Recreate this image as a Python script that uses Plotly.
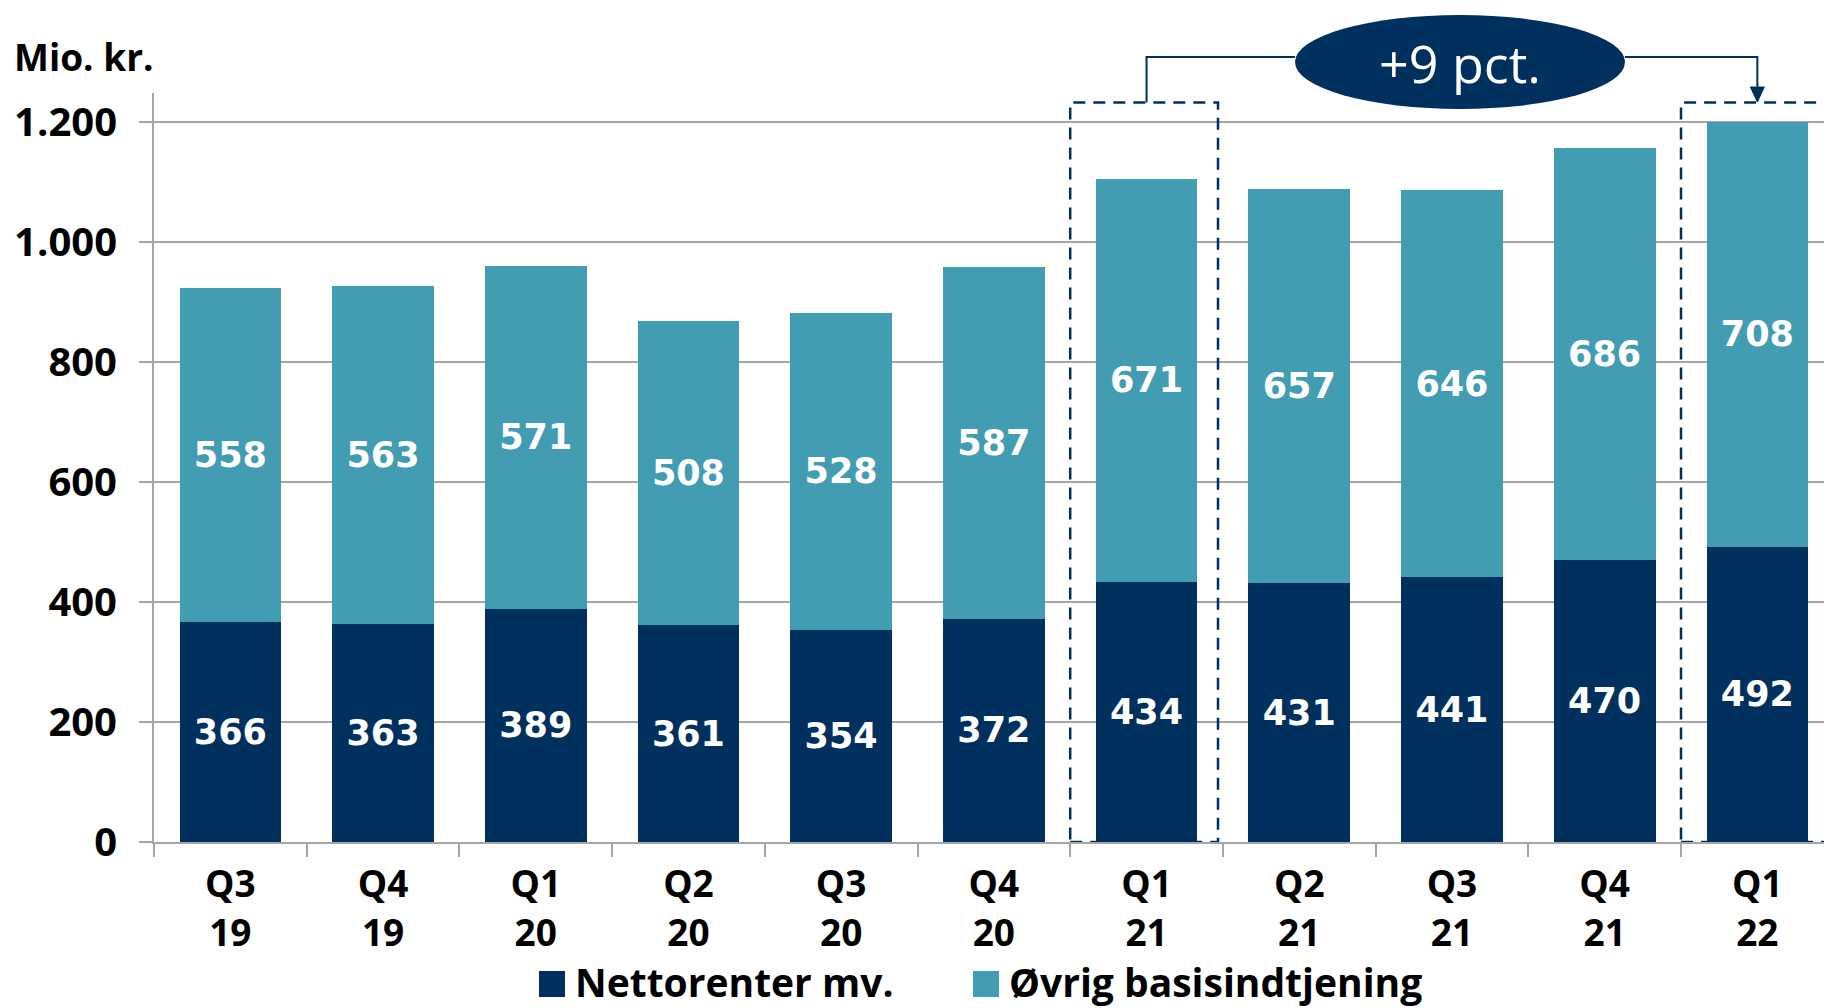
import plotly.graph_objects as go

# ---- data ----
quarters = ["Q3", "Q4", "Q1", "Q2", "Q3", "Q4", "Q1", "Q2", "Q3", "Q4", "Q1"]
years = ["19", "19", "20", "20", "20", "20", "21", "21", "21", "21", "22"]
nettorenter = [366, 363, 389, 361, 354, 372, 434, 431, 441, 470, 492]
ovrig = [558, 563, 571, 508, 528, 587, 671, 657, 646, 686, 708]
series_names = ["Nettorenter mv.", "Øvrig basisindtjening"]
y_title = "Mio. kr."
compare_from = 6   # Q1 21
compare_to = 10    # Q1 22
growth_label = "+9 pct."

categories = [f"{q}<br>{y}" for q, y in zip(quarters, years)]

# ---- style ----
NAVY = "#00305E"
TEAL = "#429DB2"
GRID = "#A6A6A6"
TXT = "Open Sans"
W, H = 1824, 1008
ML, MR, MT, MB = 154, 0, 93, 166
PW, PH = W - ML - MR, H - MT - MB
CAT_PX = 152.7
XMIN, XMAX = -0.5, -0.5 + PW / CAT_PX
YMAX = PH / 0.6


def px_x(px):
    return (px - ML) / PW


def px_y(py):
    return (H - MB - py) / PH


def cat_px(i):
    return ML + (i - XMIN) * CAT_PX


label_font = dict(family="DejaVu Sans", size=35, color="white", weight="bold")

fig = go.Figure()
fig.add_trace(go.Bar(
    x=categories, y=nettorenter, name=series_names[0], marker_color=NAVY,
    marker_line_width=0, texttemplate="%{y}", textposition="inside",
    insidetextanchor="middle", textangle=0, constraintext="none",
    textfont=label_font, showlegend=False))
fig.add_trace(go.Bar(
    x=categories, y=ovrig, name=series_names[1], marker_color=TEAL,
    marker_line_width=0, texttemplate="%{y}", textposition="inside",
    insidetextanchor="middle", textangle=0, constraintext="none",
    textfont=label_font, showlegend=False))

shapes = []
annotations = []

# dashed comparison boxes
box_top = (H - MB - 102.5) / 0.6
for c in (compare_from, compare_to):
    shapes.append(dict(type="rect", xref="x", yref="y", x0=c - 0.5, x1=c + 0.468,
                       y0=0, y1=box_top, line=dict(color=NAVY, width=2.5, dash="12px,8px"),
                       fillcolor="rgba(0,0,0,0)", layer="above"))

# ellipse with growth label
ex0, ex1, ey0, ey1 = 1295, 1625, 15, 109
shapes.append(dict(type="circle", xref="paper", yref="paper",
                   x0=px_x(ex0), x1=px_x(ex1), y0=px_y(ey1), y1=px_y(ey0),
                   fillcolor=NAVY, line=dict(width=0)))
annotations.append(dict(xref="paper", yref="paper", x=px_x((ex0 + ex1) / 2), y=px_y(63),
                        text=growth_label, showarrow=False, xanchor="center", yanchor="middle",
                        font=dict(family=TXT, size=52, color="white")))

# connectors
ly = 57
lx = cat_px(compare_from)
rx = cat_px(compare_to)
shapes.append(dict(type="path", xref="paper", yref="paper",
                   path=f"M{px_x(lx)},{px_y(102.5)} L{px_x(lx)},{px_y(ly)} L{px_x(ex0)},{px_y(ly)}",
                   line=dict(color=NAVY, width=2)))
shapes.append(dict(type="path", xref="paper", yref="paper",
                   path=f"M{px_x(ex1)},{px_y(ly)} L{px_x(rx)},{px_y(ly)} L{px_x(rx)},{px_y(90)}",
                   line=dict(color=NAVY, width=2)))
shapes.append(dict(type="path", xref="paper", yref="paper",
                   path=f"M{px_x(rx - 7)},{px_y(87)} L{px_x(rx + 7)},{px_y(87)} L{px_x(rx)},{px_y(102)} Z",
                   fillcolor=NAVY, line=dict(color=NAVY, width=1)))

# y title
annotations.append(dict(xref="paper", yref="paper", x=px_x(12), y=px_y(56), text=y_title,
                        showarrow=False, xanchor="left", yanchor="middle",
                        font=dict(family=TXT, size=37, color="black", weight="bold")))

# custom legend
legend_items = [(539, 577, NAVY, series_names[0]), (973, 1011, TEAL, series_names[1])]
for sq_x, tx, col, name in legend_items:
    shapes.append(dict(type="rect", xref="paper", yref="paper",
                       x0=px_x(sq_x), x1=px_x(sq_x + 26), y0=px_y(997), y1=px_y(971),
                       fillcolor=col, line=dict(width=0)))
    annotations.append(dict(xref="paper", yref="paper", x=px_x(tx - 3), y=px_y(981), text=name,
                            showarrow=False, xanchor="left", yanchor="middle", borderpad=0,
                            font=dict(family=TXT, size=39, color="black", weight="bold")))

fig.update_layout(
    barmode="stack", bargap=0.334,
    width=W, height=H, margin=dict(l=ML, r=MR, t=MT, b=MB, pad=0),
    plot_bgcolor="white", paper_bgcolor="white",
    separators=",.",
    shapes=shapes, annotations=annotations,
    xaxis=dict(type="category", range=[XMIN, XMAX], showgrid=False, showline=True,
               linecolor=GRID, linewidth=2, ticks="outside", ticklen=13, tickwidth=2,
               tickcolor=GRID, tickson="boundaries", ticklabelstandoff=9,
               tickfont=dict(family=TXT, size=37, color="black", weight="bold")),
    yaxis=dict(range=[0, YMAX], dtick=200, tick0=0, tickformat=",d", showgrid=True,
               gridcolor=GRID, gridwidth=2, showline=True, linecolor=GRID, linewidth=2,
               ticks="outside", ticklen=13, tickwidth=2, tickcolor=GRID, zeroline=False,
               ticklabelstandoff=14,
               tickfont=dict(family=TXT, size=40, color="black", weight="bold")),
)

fig.write_html("out.html", config={"displayModeBar": False},
               post_script="document.body.style.margin='0px';document.body.style.overflow='hidden';")
